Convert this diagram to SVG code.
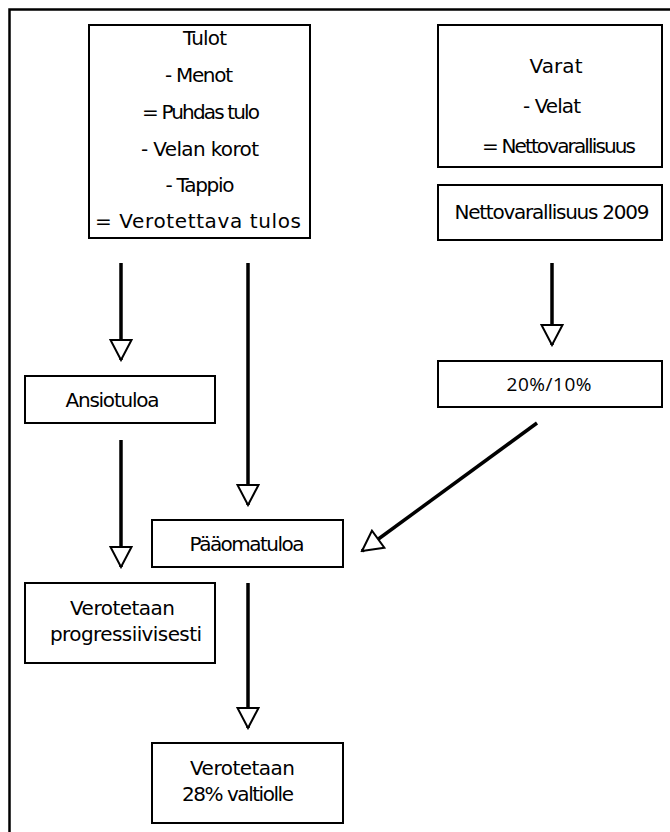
<svg xmlns="http://www.w3.org/2000/svg" width="670" height="832" viewBox="0 0 670 832">
<style>
.box{fill:#fff;stroke:#000;stroke-width:2}
.t{font-family:"DejaVu Sans",sans-serif;font-size:20px;fill:#000;text-anchor:middle}
.c{font-family:"Open Sans","Noto Sans",sans-serif;font-size:19px;fill:#000;text-anchor:middle}
.arr{stroke:#000;stroke-width:3.5;fill:none;marker-end:url(#tri)}
</style>
<defs>
<marker id="tri" viewBox="0 0 24 24" refX="22" refY="12" markerWidth="24" markerHeight="24" markerUnits="userSpaceOnUse" orient="auto">
<path d="M2,1.5 L22,12 L2,22.5 Z" fill="#fff" stroke="#000" stroke-width="2" stroke-linejoin="miter"/>
</marker>
</defs>
<rect width="670" height="832" fill="#fff"/>
<path d="M9.5,832 V9.5 H670" fill="none" stroke="#000" stroke-width="2.5"/>

<g id="tulot">
<rect class="box" x="89" y="25" width="221" height="213"/>
<text class="t" x="205" y="45" textLength="44">Tulot</text>
<text class="t" x="199" y="82" textLength="68">- Menot</text>
<text class="t" x="201" y="119" textLength="118">= Puhdas tulo</text>
<text class="t" x="200" y="156" textLength="118">- Velan korot</text>
<text class="t" x="200" y="192" textLength="69">- Tappio</text>
<text class="t" x="198" y="228" textLength="206">= Verotettava tulos</text>
</g>

<g id="varat">
<rect class="box" x="438" y="25" width="224" height="142"/>
<text class="t" x="556" y="73" textLength="53">Varat</text>
<text class="t" x="552" y="113" textLength="58">- Velat</text>
<text class="t" x="559" y="153" textLength="154">= Nettovarallisuus</text>
</g>

<g id="netto2009">
<rect class="box" x="438" y="185" width="224" height="55"/>
<text class="t" x="552" y="219" textLength="195">Nettovarallisuus 2009</text>
</g>

<g id="ansiotuloa">
<rect class="box" x="25" y="376" width="190" height="47"/>
<text class="t" x="112.5" y="407" textLength="94">Ansiotuloa</text>
</g>

<g id="prosentti">
<rect class="box" x="438" y="361" width="224" height="46"/>
<text class="c" x="549" y="391" textLength="85">20%/10%</text>
</g>

<g id="paaomatuloa">
<rect class="box" x="152" y="520" width="191" height="47"/>
<text class="t" x="247" y="551" textLength="115">Pääomatuloa</text>
</g>

<g id="progressiivisesti">
<rect class="box" x="25" y="583" width="190" height="80"/>
<text class="t" x="122.5" y="615" textLength="105">Verotetaan</text>
<text class="t" x="126" y="641" textLength="152">progressiivisesti</text>
</g>

<g id="valtiolle">
<rect class="box" x="152" y="743" width="191" height="80"/>
<text class="t" x="242.5" y="775" textLength="105">Verotetaan</text>
<text class="t" x="238" y="801" textLength="112">28% valtiolle</text>
</g>

<g id="connectors">
<line class="arr" x1="121" y1="263" x2="121" y2="360"/>
<line class="arr" x1="248" y1="263" x2="248" y2="505"/>
<line class="arr" x1="552" y1="263" x2="552" y2="345"/>
<line class="arr" x1="121" y1="440" x2="121" y2="567"/>
<line class="arr" x1="537" y1="423" x2="362" y2="551"/>
<line class="arr" x1="248" y1="583" x2="248" y2="728"/>
</g>
</svg>
